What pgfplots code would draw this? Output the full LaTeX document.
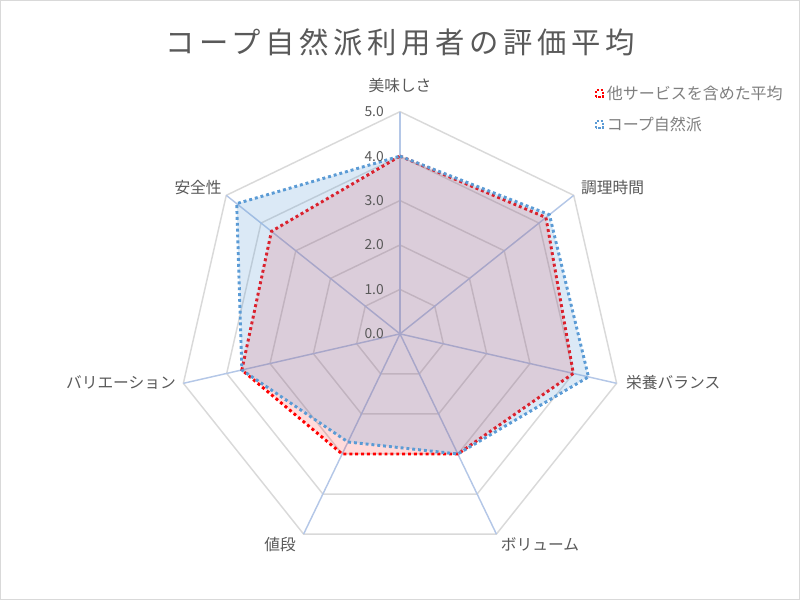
\documentclass[border=0pt]{standalone}
\usepackage{fontspec}
\setmainfont{Noto Sans CJK JP}
\newfontfamily\titlefont[LetterSpace=16]{Noto Sans CJK JP}
\usepackage{pgfplots}
\usepackage{pgfplotstable}
\pgfplotsset{compat=1.18}
\definecolor{txt}{HTML}{595959}
\definecolor{legtxt}{HTML}{7F7F7F}
\definecolor{gridc}{HTML}{D9D9D9}
\definecolor{spoke}{HTML}{B4C7E7}
\definecolor{redl}{HTML}{FF0000}
\definecolor{bluel}{HTML}{5B9BD5}
\pgfplotstableread{
angle     other  coop
90        4.00   4.00
38.5714   4.20   4.30
-12.8571  4.00   4.35
-64.2857  3.00   3.00
-115.7143 3.00   2.70
-167.1429 3.65   3.65
-218.5714 3.70   4.70
90        4.00   4.00
}\radar
\begin{document}
\begin{tikzpicture}
\begin{axis}[
  x=33.345pt, y=33.345pt,
  xmin=-9, xmax=9, ymin=-5.983, ymax=7.512,
  hide axis, clip=false, scale only axis,
  legend style={at={(axis cs:4.38,5.71)}, anchor=north west, draw=none, fill=none,
    font=\fontsize{12pt}{14pt}\selectfont, text=legtxt, row sep=7.6pt,
    inner xsep=0pt, nodes={inner xsep=2pt}},
  legend cell align=left,
  legend image code/.code={
    \draw[#1, fill=none, line width=1.7pt, dash pattern=on 1.7pt off 1.2pt]
      (0pt,-2.6pt) rectangle (5.2pt,2.6pt);},
]
% grid polygons
\addplot[gridc, line width=1.1pt, data cs=polar, forget plot] coordinates {(90,1)(38.5714,1)(-12.8571,1)(-64.2857,1)(-115.7143,1)(-167.1429,1)(-218.5714,1)(90,1)};
\addplot[gridc, line width=1.1pt, data cs=polar, forget plot] coordinates {(90,2)(38.5714,2)(-12.8571,2)(-64.2857,2)(-115.7143,2)(-167.1429,2)(-218.5714,2)(90,2)};
\addplot[gridc, line width=1.1pt, data cs=polar, forget plot] coordinates {(90,3)(38.5714,3)(-12.8571,3)(-64.2857,3)(-115.7143,3)(-167.1429,3)(-218.5714,3)(90,3)};
\addplot[gridc, line width=1.1pt, data cs=polar, forget plot] coordinates {(90,4)(38.5714,4)(-12.8571,4)(-64.2857,4)(-115.7143,4)(-167.1429,4)(-218.5714,4)(90,4)};
\addplot[gridc, line width=1.1pt, data cs=polar, forget plot] coordinates {(90,5)(38.5714,5)(-12.8571,5)(-64.2857,5)(-115.7143,5)(-167.1429,5)(-218.5714,5)(90,5)};
% spokes
\addplot[spoke, line width=1.1pt, data cs=polar, forget plot] coordinates {(90,0)(90,5)};
\addplot[spoke, line width=1.1pt, data cs=polar, forget plot] coordinates {(38.5714,0)(38.5714,5)};
\addplot[spoke, line width=1.1pt, data cs=polar, forget plot] coordinates {(-12.8571,0)(-12.8571,5)};
\addplot[spoke, line width=1.1pt, data cs=polar, forget plot] coordinates {(-64.2857,0)(-64.2857,5)};
\addplot[spoke, line width=1.1pt, data cs=polar, forget plot] coordinates {(-115.7143,0)(-115.7143,5)};
\addplot[spoke, line width=1.1pt, data cs=polar, forget plot] coordinates {(-167.1429,0)(-167.1429,5)};
\addplot[spoke, line width=1.1pt, data cs=polar, forget plot] coordinates {(-218.5714,0)(-218.5714,5)};
% series
\addplot[data cs=polar, draw=redl, fill=redl, fill opacity=0.14, draw opacity=1,
  line width=2.2pt, dash pattern=on 2.2pt off 2.2pt, line join=miter, mark=none]
  table[x=angle, y=other] {\radar};
\addlegendentry{他サービスを含めた平均}
\addplot[data cs=polar, draw=bluel, fill=bluel, fill opacity=0.22, draw opacity=1,
  line width=2.2pt, dash pattern=on 2.2pt off 2.2pt, line join=miter, mark=none]
  table[x=angle, y=coop] {\radar};
\addlegendentry{コープ自然派}
% tick labels
\pgfplotsinvokeforeach{0,1,2,3,4,5}{
  \node[anchor=east, text=txt, font=\fontsize{10.4pt}{12pt}\selectfont, inner sep=0pt] at (axis cs:-0.36,#1) {#1.0};
}
% category labels
\node[anchor=center, text=txt, font=\fontsize{11.8pt}{13pt}\selectfont, inner sep=0pt] at (axis cs:0,5.578) {美味しさ};
\node[anchor=west, text=txt, font=\fontsize{11.8pt}{13pt}\selectfont, inner sep=0pt] at (axis cs:4.071,3.284) {調理時間};
\node[anchor=west, text=txt, font=\fontsize{11.8pt}{13pt}\selectfont, inner sep=0pt] at (axis cs:5.083,-1.102) {栄養バランス};
\node[anchor=center, text=txt, font=\fontsize{11.8pt}{13pt}\selectfont, inner sep=0pt] at (axis cs:3.149,-4.746) {ボリューム};
\node[anchor=center, text=txt, font=\fontsize{11.8pt}{13pt}\selectfont, inner sep=0pt] at (axis cs:-2.699,-4.746) {値段};
\node[anchor=east, text=txt, font=\fontsize{11.8pt}{13pt}\selectfont, inner sep=0pt] at (axis cs:-5.038,-1.102) {バリエーション};
\node[anchor=center, text=txt, font=\fontsize{11.8pt}{13pt}\selectfont, inner sep=0pt] at (axis cs:-4.543,3.284) {安全性};
% title
\node[text=txt, font=\titlefont\fontsize{22pt}{26pt}\selectfont, inner sep=0pt] at (axis cs:0,6.568) {コープ自然派利用者の評価平均};
% border
\draw[gridc, line width=0.75pt] (axis cs:-8.989,-5.972) rectangle (axis cs:8.989,7.501);
\end{axis}
\end{tikzpicture}
\end{document}
